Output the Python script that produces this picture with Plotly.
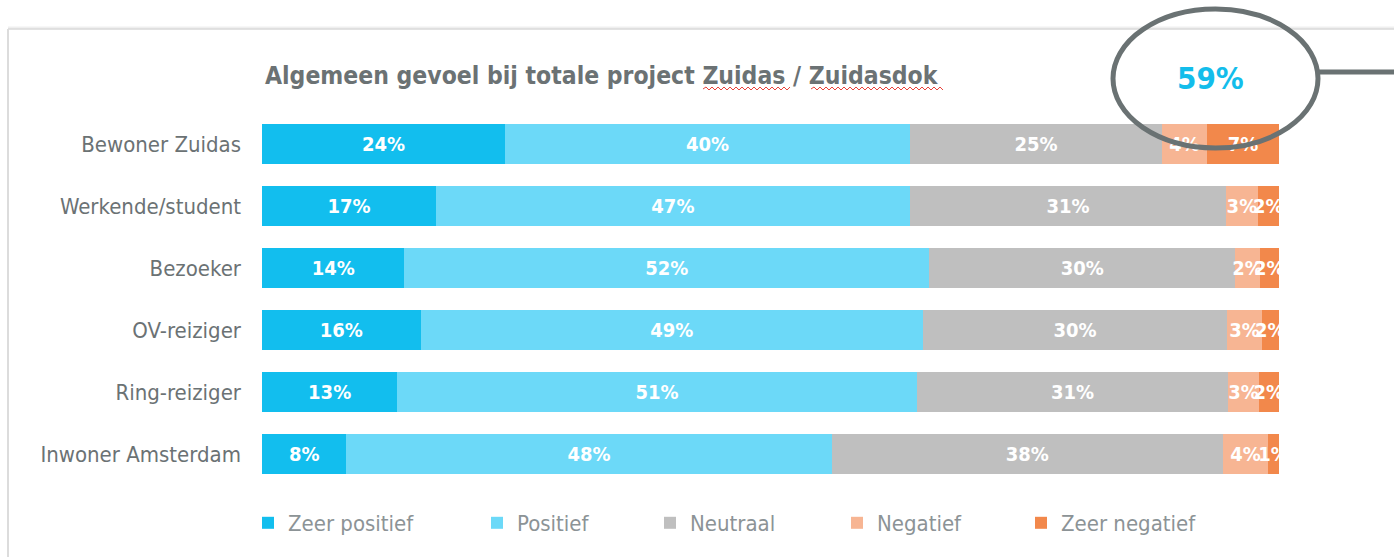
import plotly.graph_objects as go

# ---------------- data ----------------
categories = ["Bewoner Zuidas", "Werkende/student", "Bezoeker",
              "OV-reiziger", "Ring-reiziger", "Inwoner Amsterdam"]
zeer_positief = [23.9, 17.1, 14.0, 15.6, 13.3, 8.3]
positief = [39.8, 46.6, 51.6, 49.4, 51.1, 47.7]
neutraal = [24.8, 31.1, 30.1, 29.9, 30.6, 38.5]
negatief = [4.4, 3.1, 2.4, 3.4, 3.0, 4.4]
zeer_negatief = [7.1, 2.1, 1.9, 1.7, 2.0, 1.1]
totaal_positief = [64, 64, 66, 65, 64, 56]
algemeen_positief = 59
series_names = ["Zeer positief", "Positief", "Neutraal", "Negatief", "Zeer negatief"]
title_text = "Algemeen gevoel bij totale project Zuidas / Zuidasdok"

# ---------------- style ----------------
colors = ["#12BEEE", "#6CD9F8", "#BFBFBF", "#F7B593", "#F2884B"]
FONT = "DejaVu Sans Condensed, Liberation Sans Narrow, DejaVu Sans, sans-serif"
GREY = "#6B7274"
CYAN = "#13BDEB"

W, H = 1394, 557
ML, MR, MT, MB = 262, 115, 113, 72
PW, PH = W - ML - MR, H - MT - MB


def px(xp):
    return (xp - ML) / PW


def py(yp):
    return (H - MB - yp) / PH


legend_ids = ["legend", "legend2", "legend3", "legend4", "legend5"]
legend_px = [248, 477, 650, 837, 1021]

fig = go.Figure()
for name, vals, col, lid in zip(series_names,
                                [zeer_positief, positief, neutraal, negatief, zeer_negatief],
                                colors, legend_ids):
    fig.add_trace(go.Bar(
        y=categories, x=vals, name=name, orientation="h", legend=lid,
        marker=dict(color=col, line=dict(width=0)),
        text=[f"{round(v)}%" for v in vals],
        textposition="inside", insidetextanchor="middle",
        constraintext="none", textangle=0,
        textfont=dict(family=FONT, size=20, color="white", weight="bold"),
        hoverinfo="skip",
    ))

annotations = []
for cat, v in zip(categories, totaal_positief):
    annotations.append(dict(
        x=104.6, y=cat, xref="x", yref="y", text=f"{v}%", showarrow=False,
        font=dict(family=FONT, size=20, color=CYAN, weight="bold"),
        xanchor="center", yanchor="middle"))

annotations.append(dict(
    x=px(1210), y=py(78), xref="paper", yref="paper",
    text=f"{algemeen_positief}%", showarrow=False,
    font=dict(family=FONT, size=31, color=CYAN, weight="bold"),
    xanchor="center", yanchor="middle"))

shapes = []
# panel border + soft shadow
for i, c in enumerate(["#f4f4f4", "#ececec", "#d9d9d9"]):
    shapes.append(dict(type="line", xref="paper", yref="paper",
                       x0=px(8), x1=px(W), y0=py(27 + i), y1=py(27 + i),
                       line=dict(color=c, width=1.5)))
shapes.append(dict(type="line", xref="paper", yref="paper",
                   x0=px(8), x1=px(8), y0=py(29), y1=py(H),
                   line=dict(color="#dcdcdc", width=2)))

# red spell-check squiggles under title words
for xs, xe in [(703, 788), (811, 942)]:
    path = f"M{px(xs)},{py(89)}"
    k = 0
    x = xs
    while x < xe:
        x += 3
        k += 1
        path += f" L{px(x)},{py(87 if k % 2 else 90)}"
    shapes.append(dict(type="path", xref="paper", yref="paper", path=path,
                       line=dict(color="#E8423A", width=1)))

# callout ellipse + connector
shapes.append(dict(type="circle", xref="paper", yref="paper",
                   x0=px(1113), x1=px(1318), y0=py(148), y1=py(9),
                   line=dict(color="#6A7273", width=5), layer="above"))
shapes.append(dict(type="line", xref="paper", yref="paper",
                   x0=px(1318), x1=px(W + 5), y0=py(72), y1=py(72),
                   line=dict(color="#6A7273", width=5), layer="above"))

legend_layouts = {}
for lid, lx in zip(legend_ids, legend_px):
    legend_layouts[lid] = dict(
        orientation="h", x=px(lx), y=py(523), xanchor="left", yanchor="middle",
        itemwidth=30, bgcolor="rgba(0,0,0,0)",
        font=dict(family=FONT, size=22, color="#8C9396"))

fig.update_layout(
    width=W, height=H,
    barmode="stack", barnorm="percent", bargap=0.355,
    plot_bgcolor="white", paper_bgcolor="white",
    margin=dict(l=ML, r=MR, t=MT, b=MB, autoexpand=False),
    title=dict(text=title_text, xref="container", yref="container",
               x=265 / W, y=1 - 75 / H, xanchor="left", yanchor="middle",
               font=dict(family=FONT, size=24.5, color=GREY, weight="bold")),
    xaxis=dict(range=[0, 100], visible=False, fixedrange=True),
    yaxis=dict(autorange="reversed", showgrid=False, zeroline=False,
               showline=False, ticks="", ticklabelstandoff=20, fixedrange=True,
               tickfont=dict(family=FONT, size=22, color=GREY)),
    annotations=annotations, shapes=shapes,
    showlegend=True,
    **legend_layouts,
)

fig.write_html("out.html", config={"displayModeBar": False},
               post_script="document.body.style.margin='0';document.body.style.overflow='hidden';")
